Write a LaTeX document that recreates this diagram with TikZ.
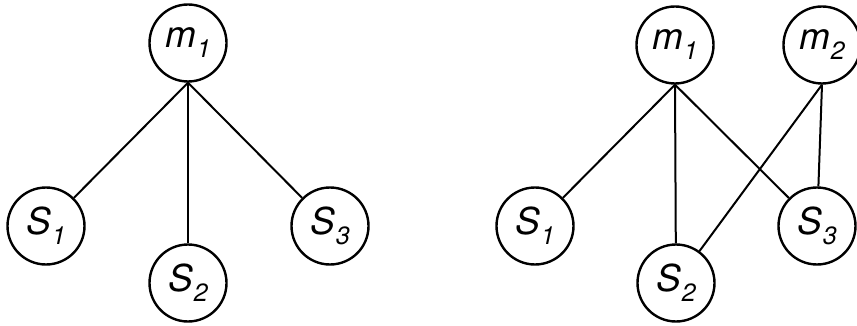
\documentclass[tikz,border=0pt]{standalone}
\usepackage{fontspec}
\setmainfont{TeX Gyre Heros}
\newcommand\nodelbl[2]{{\itshape #1}\kern0.02em\raisebox{-0.27em}{\fontsize{25}{25}\selectfont\itshape #2}}
\begin{document}
\begin{tikzpicture}[x=1pt,y=-1pt,
  vert/.style={draw, circle, line width=2.4pt, minimum size=77pt, inner sep=0pt,
    font=\fontsize{37}{37}\selectfont},
  edge/.style={line width=2pt}]
\useasboundingbox (0,0) rectangle (857,326);
% left diagram
\node[vert] (lm1) at (188,43) {\nodelbl{m}{1}};
\node[vert] (ls1) at (46,226) {\nodelbl{S}{1}};
\node[vert] (ls2) at (188,283) {\nodelbl{S}{2}};
\node[vert] (ls3) at (330,226) {\nodelbl{S}{3}};
\draw[edge] (lm1.south) -- (ls1);
\draw[edge] (lm1.south) -- (ls2);
\draw[edge] (lm1.south) -- (ls3);
% right diagram
\node[vert] (rm1) at (675,45) {\nodelbl{m}{1}};
\node[vert] (rm2) at (822,45) {\nodelbl{m}{2}};
\node[vert] (rs1) at (535,226) {\nodelbl{S}{1}};
\node[vert] (rs2) at (676,283) {\nodelbl{S}{2}};
\node[vert] (rs3) at (817,226) {\nodelbl{S}{3}};
\draw[edge] (rm1.south) -- (rs1);
\draw[edge] (rm1.south) -- (rs2);
\draw[edge] (rm1.south) -- (rs3);
\draw[edge] (rm2.south) -- (rs2);
\draw[edge] (rm2.south) -- (rs3);
\end{tikzpicture}
\end{document}
